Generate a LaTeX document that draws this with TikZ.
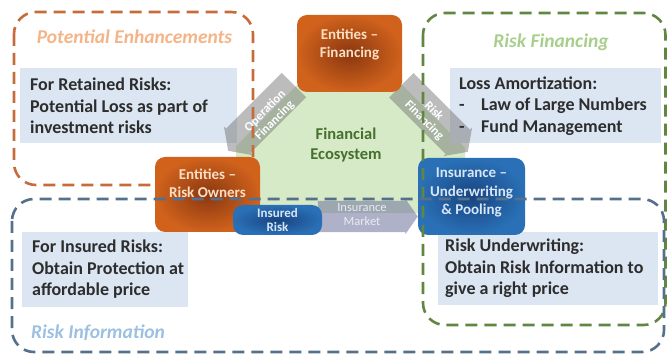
\documentclass[tikz,border=0pt]{standalone}
\usepackage{fontspec}
\setmainfont{Carlito}
\usepackage{tikz}
\usetikzlibrary{calc}
\usetikzlibrary{shapes.arrows}

\definecolor{ecogreen}{RGB}{214,234,200}
\definecolor{ecotext}{RGB}{70,112,45}
\definecolor{infofill}{RGB}{220,230,242}
\definecolor{infotext}{RGB}{45,45,45}
\definecolor{orgouter}{RGB}{208,98,28}
\definecolor{orginner}{RGB}{138,55,16}
\definecolor{orgtext}{RGB}{252,222,194}
\definecolor{bluouter}{RGB}{42,112,182}
\definecolor{bluinner}{RGB}{24,68,128}
\definecolor{blutext}{RGB}{214,230,246}
\definecolor{orgdash}{RGB}{198,108,60}
\definecolor{grndash}{RGB}{96,134,66}
\definecolor{bludash}{RGB}{84,112,140}
\definecolor{orgtitle}{RGB}{244,180,136}
\definecolor{grntitle}{RGB}{168,206,140}
\definecolor{blutitle}{RGB}{156,192,226}
\definecolor{flowgrey}{RGB}{115,115,115}
\definecolor{mktgrey}{RGB}{115,120,160}

\begin{document}
\begin{tikzpicture}[x=1pt, y=-1pt,
        frame/.style={line width=2.6pt, dash pattern=on 12pt off 7pt, rounded corners=22pt},
        info/.style={anchor=west, align=left, inner sep=0pt, text=infotext, font=\fontsize{18}{21.5}\selectfont\bfseries},
        title/.style={font=\fontsize{19.5}{22}\selectfont\bfseries\itshape},
        entity/.style={rectangle, rounded corners=10pt, shading=radial, inner sep=0pt},
        orgbox/.style={entity, inner color=orginner, outer color=orgouter},
        blubox/.style={entity, inner color=bluinner, outer color=bluouter},
        boxtext/.style={align=center, font=\fontsize{15}{18.5}\selectfont\bfseries},
        flow/.style={single arrow, draw=none, fill=flowgrey, fill opacity=0.48, inner xsep=0pt, single arrow head extend=3pt, single arrow tip angle=110},
        flowtext/.style={align=center, text=white, font=\fontsize{12.5}{13.5}\selectfont\bfseries}]
        \useasboundingbox (0,0) rectangle (669,355);

        % ecosystem in the middle
        \fill[ecogreen] (297,85) -- (402,85) -- (465,148) -- (465,213) -- (236,213) -- (236,146) -- cycle;

        % text panels
        \foreach \xa/\ya/\xb/\yb in {20/68/237/143, 450/68/661/143, 22/232/188/307, 438/232/658/305}
            \fill[infofill] (\xa,\ya) rectangle (\xb,\yb);

        % financing flows
        \node[flow, minimum height=93pt, inner ysep=17pt, rotate=225, anchor=tip] (opflow) at (228,151) {};
        \node[flow, minimum height=94pt, inner ysep=17pt, rotate=-45, anchor=tip] (riskflow) at (468,152) {};
        \node[flowtext, rotate=45] (optext) at (270,116) {Operation\\Financing};
        \node[flowtext, rotate=-45] (risktext) at (429,116) {Risk\\Financing};

        \draw[frame, orgdash] (14,12) rectangle (253,185);

        \node[boxtext, text=ecotext, font=\fontsize{16.5}{20}\selectfont\bfseries] (eco) at (346,145) {Financial\\Ecosystem};

        % entities
        \node[orgbox, minimum width=105pt, minimum height=77pt] (fin) at (349.5,53.5) {};
        \node[orgbox, minimum width=105pt, minimum height=75pt] (own) at (207.5,194.5) {};
        \node[blubox, minimum width=107pt, minimum height=77pt] (ins) at (471.5,196.5) {};
        \node[flow, fill=mktgrey, fill opacity=0.58, minimum height=100pt, inner ysep=15.5pt, single arrow head extend=2pt, anchor=tip] (market) at (418,216.5) {};
        \node[blubox, minimum width=89pt, minimum height=30pt] (insured) at (277.5,220) {};

        \node[boxtext, text=orgtext] (fintext) at ($(fin.center)+(0,-9)$) {Entities --\\Financing};
        \node[boxtext, text=orgtext] (owntext) at ($(own.center)+(0,-11)$) {Entities --\\Risk Owners};
        \node[boxtext, text=blutext] (instext) at ($(ins.center)+(0,-4)$) {Insurance --\\Underwriting\\\& Pooling};
        \node[boxtext, text=blutext, font=\fontsize{13}{14.5}\selectfont\bfseries] (insuredtext) at (insured.center) {Insured\\Risk};
        \node[flowtext, text=white!85!mktgrey, font=\fontsize{12.5}{14}\selectfont] (markettext) at (362,215) {Insurance\\Market};

        \draw[frame, grndash] (423,13) rectangle (665.5,325);
        \draw[frame, bludash] (12,199) rectangle (664,352);

        % titles
        \node[title, text=orgtitle] (enhtitle) at (134.5,37) {Potential Enhancements};
        \node[title, text=grntitle] (fintitle) at (551,42) {Risk Financing};
        \node[title, text=blutitle] (infotitle) at (98,333) {Risk Information};

        % panel texts
        \node[info] (retained) at (30,106) {For Retained Risks:\\Potential Loss as part of\\investment risks};
        \node[info] (amort) at (459,106) {Loss Amortization:\\\makebox[22pt][l]{-}Law of Large Numbers\\\makebox[22pt][l]{-}Fund Management};
        \node[info] (insuredrisks) at (32,269.5) {For Insured Risks:\\Obtain Protection at\\affordable price};
        \node[info] (underwriting) at (445,268.5) {Risk Underwriting:\\Obtain Risk Information to\\give a right price};
    \end{tikzpicture}
\end{document}
